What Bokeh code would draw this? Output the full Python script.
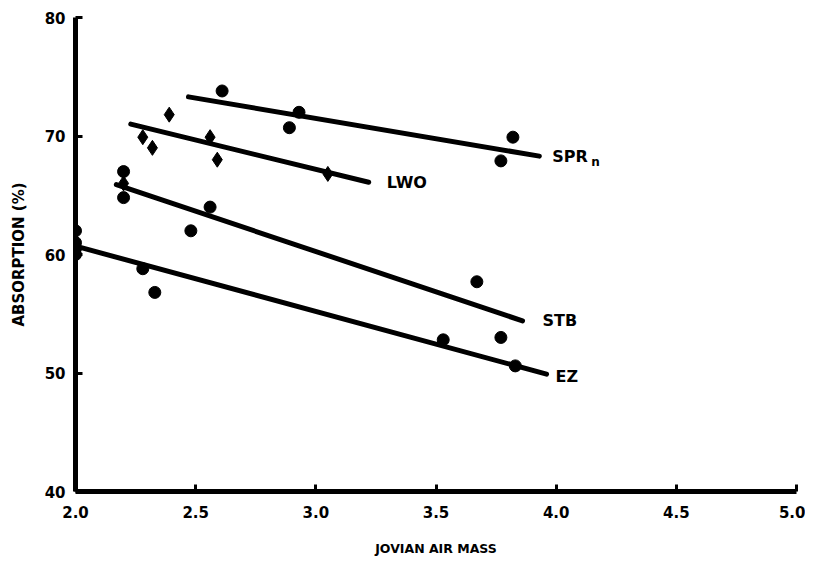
from bokeh.plotting import figure
from bokeh.models import Range1d, FixedTicker, ColumnDataSource
from bokeh.core.properties import value
from bokeh.embed import file_html
from bokeh.resources import INLINE

# ---- data ----
spr_x = [2.61, 2.89, 2.93, 3.77, 3.82]
spr_y = [73.8, 70.7, 72.0, 67.9, 69.9]
spr_fit_x = [2.47, 3.93]
spr_fit_y = [73.3, 68.3]

lwo_x = [2.39, 2.28, 2.32, 2.56, 2.59, 3.05, 2.20]
lwo_y = [71.8, 69.9, 69.0, 69.9, 68.0, 66.8, 66.0]
lwo_fit_x = [2.23, 3.22]
lwo_fit_y = [71.0, 66.1]

stb_x = [2.20, 2.20, 2.56, 2.48, 3.67, 3.77]
stb_y = [67.0, 64.8, 64.0, 62.0, 57.7, 53.0]
stb_fit_x = [2.17, 3.86]
stb_fit_y = [65.9, 54.4]

ez_x = [2.0, 2.0, 2.0, 2.0, 2.28, 2.33, 3.53, 3.83]
ez_y = [62.0, 61.0, 60.5, 60.0, 58.8, 56.8, 52.8, 50.6]
ez_fit_x = [2.02, 3.96]
ez_fit_y = [60.6, 49.9]

x_ticks = [2.0, 2.5, 3.0, 3.5, 4.0, 4.5, 5.0]
x_tick_labels = ["2.0", "2.5", "3.0", "3.5", "4.0", "4.5", "5.0"]
y_ticks = [40, 50, 60, 70, 80]

FONT = "DejaVu Sans"

p = figure(width=805, height=558, output_backend="svg", toolbar_location=None,
           x_range=Range1d(2.0, 5.0), y_range=Range1d(40, 80),
           min_border_left=75, min_border_right=9, min_border_top=17,
           min_border_bottom=66)
p.outline_line_color = None
p.grid.visible = False
p.background_fill_color = "white"

for ax in (p.xaxis[0], p.yaxis[0]):
    ax.axis_line_width = 5
    ax.axis_line_color = "black"
    ax.major_tick_in = 7
    ax.major_tick_out = 0
    ax.major_tick_line_width = 3
    ax.minor_tick_line_color = None
    ax.major_label_text_font = FONT
    ax.major_label_text_font_style = "bold"
    ax.major_label_text_font_size = "15px"
    ax.major_label_text_color = "black"
    ax.axis_label_text_font = FONT
    ax.axis_label_text_font_style = "bold"
    ax.axis_label_text_color = "black"

p.xaxis.ticker = FixedTicker(ticks=x_ticks)
p.xaxis.major_label_overrides = {t: l for t, l in zip(x_ticks, x_tick_labels)}
p.yaxis.ticker = FixedTicker(ticks=y_ticks)
p.xaxis.axis_label = "JOVIAN AIR MASS"
p.xaxis.axis_label_text_font_size = "12.5px"
p.xaxis.axis_label_standoff = 20
p.xaxis.major_label_standoff = 14
p.yaxis.axis_label = "ABSORPTION (%)"
p.yaxis.axis_label_text_font_size = "15px"
p.yaxis.axis_label_standoff = 14
p.yaxis.major_label_standoff = 10

# fitted lines
for fx, fy in [(spr_fit_x, spr_fit_y), (lwo_fit_x, lwo_fit_y),
               (stb_fit_x, stb_fit_y), (ez_fit_x, ez_fit_y)]:
    p.line(fx, fy, line_width=5, line_color="black", line_cap="round")

# points
p.scatter(spr_x, spr_y, marker="circle", size=12, color="black")
p.scatter(stb_x, stb_y, marker="circle", size=12, color="black")
p.scatter(ez_x, ez_y, marker="circle", size=12, color="black")
p.scatter(lwo_x, lwo_y, marker="diamond", size=15, color="black")

# series labels placed at the end of each fitted line
lab = ColumnDataSource(dict(
    x=[spr_fit_x[-1], lwo_fit_x[-1], stb_fit_x[-1], ez_fit_x[-1]],
    y=[spr_fit_y[-1], lwo_fit_y[-1], stb_fit_y[-1], ez_fit_y[-1]],
    t=["SPR", "LWO", "STB", "EZ"],
    dx=[13, 18, 20, 9],
    dy=[0, 0, 0, 2],
))
p.text(x="x", y="y", text="t", x_offset="dx", y_offset="dy", source=lab,
       text_font=value(FONT), text_font_style="bold", text_font_size="16px",
       text_baseline="middle", text_align="left", text_color="black")
# subscript n on SPR
p.text(x=[spr_fit_x[-1]], y=[spr_fit_y[-1]], text=["n"], x_offset=52, y_offset=6,
       text_font=value(FONT), text_font_style="bold", text_font_size="12px",
       text_baseline="middle", text_align="left", text_color="black")

open("out.html", "w").write(file_html(p, INLINE))
